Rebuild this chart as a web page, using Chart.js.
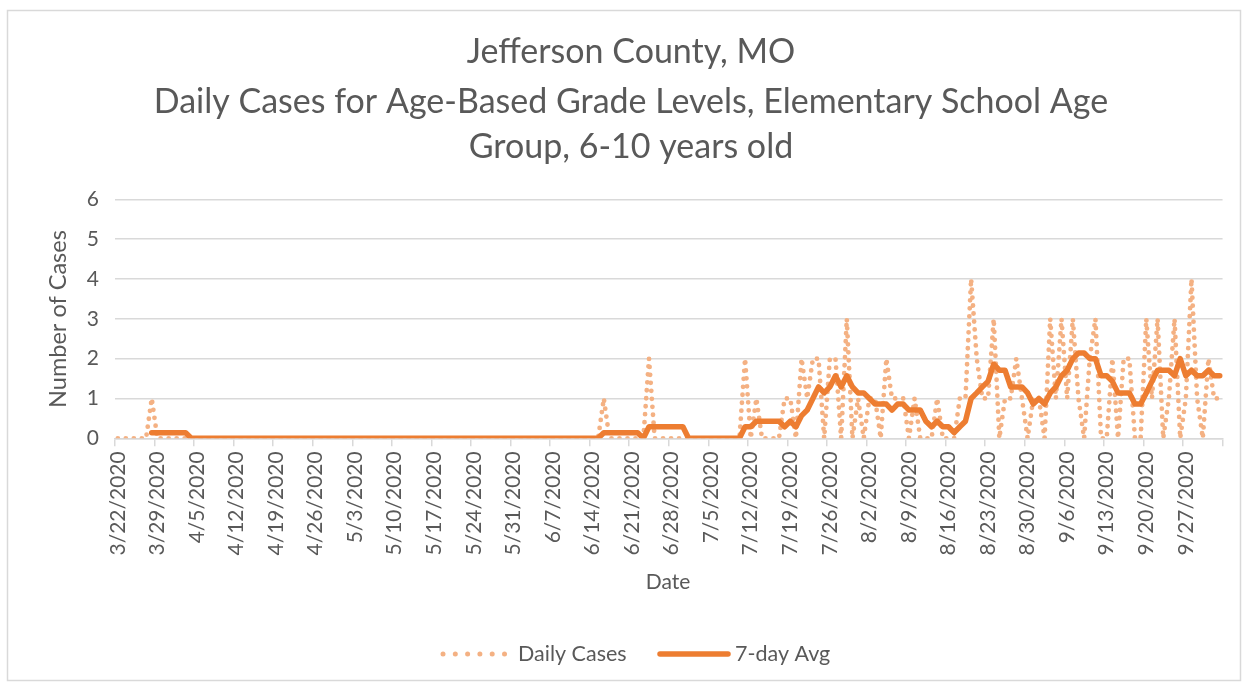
<!DOCTYPE html>
<html>
<head>
<meta charset="utf-8">
<script src="https://cdn.jsdelivr.net/npm/chart.js@4.4.1/dist/chart.umd.min.js"></script>
<style>
html,body{margin:0;padding:0;background:#fff;}
#wrap{position:relative;width:1250px;height:690px;}
</style>
</head>
<body>
<div id="wrap"><canvas id="c" width="1250" height="690"></canvas></div>
<script>
// ---- data ----
const startDate = [2020, 3, 22];   // first category (year, month, day)
const dayCount = 196;
const titleLines = ["Jefferson County, MO", "Daily Cases for Age-Based Grade Levels, Elementary School Age", "Group, 6-10 years old"];
const xTitle = "Date";
const yTitle = "Number of Cases";
const seriesNames = ["Daily Cases", "7-day Avg"];
const yTicks = [0, 1, 2, 3, 4, 5, 6];
const tickEvery = 7;

const dailyCases = [
  0,0,0,0,0,0,1, 0,0,0,0,0,0,0,
  0,0,0,0,0,0,0, 0,0,0,0,0,0,0,
  0,0,0,0,0,0,0, 0,0,0,0,0,0,0,
  0,0,0,0,0,0,0, 0,0,0,0,0,0,0,
  0,0,0,0,0,0,0, 0,0,0,0,0,0,0,
  0,0,0,0,0,0,0, 0,0,0,0,0,0,0,
  0,0,1,0,0,0,0, 0,0,0,2,0,0,0,
  0,0,0,0,0,0,0, 0,0,0,0,0,0,2,
  0,1,0,0,0,0,1, 1,0,2,1,2,2,0,
  2,2,0,3,0,1,0, 1,1,0,2,1,1,1,
  0,1,0,0,0,1,0, 0,0,1,1,4,2,1,
  1,3,0,1,1,2,1, 0,1,1,0,3,1,3,
  1,3,1,0,2,3,0, 0,2,0,2,2,0,0,
  3,1,3,0,1,3,0, 1,4,1,0,2,1,1
];

const sevenDayAvg = [
  null,null,null,null,null,null,0.14, 0.14,0.14,0.14,0.14,0.14,0.14,0,
  0,0,0,0,0,0,0, 0,0,0,0,0,0,0,
  0,0,0,0,0,0,0, 0,0,0,0,0,0,0,
  0,0,0,0,0,0,0, 0,0,0,0,0,0,0,
  0,0,0,0,0,0,0, 0,0,0,0,0,0,0,
  0,0,0,0,0,0,0, 0,0,0,0,0,0,0,
  0,0,0.14,0.14,0.14,0.14,0.14, 0.14,0.14,0,0.29,0.29,0.29,0.29,
  0.29,0.29,0.29,0,0,0,0, 0,0,0,0,0,0,0.29,
  0.29,0.43,0.43,0.43,0.43,0.43,0.29, 0.43,0.29,0.57,0.71,1.0,1.29,1.14,
  1.29,1.57,1.29,1.57,1.29,1.14,1.14, 1.0,0.86,0.86,0.86,0.71,0.86,0.86,
  0.71,0.71,0.71,0.43,0.29,0.43,0.29, 0.29,0.14,0.29,0.43,1.0,1.14,1.29,
  1.43,1.86,1.71,1.71,1.29,1.29,1.29, 1.14,0.86,1.0,0.86,1.14,1.29,1.57,
  1.71,2.0,2.14,2.14,2.0,2.0,1.57, 1.57,1.43,1.14,1.14,1.14,0.86,0.86,
  1.14,1.43,1.71,1.71,1.71,1.57,2.0, 1.57,1.71,1.57,1.57,1.71,1.57,1.57
];

// category labels (consecutive dates)
const categories = [];
{
  const d0 = new Date(startDate[0], startDate[1] - 1, startDate[2]);
  for (let i = 0; i < dayCount; i++) {
    const d = new Date(d0.getFullYear(), d0.getMonth(), d0.getDate() + i);
    categories.push((d.getMonth() + 1) + "/" + d.getDate() + "/" + d.getFullYear());
  }
}

// ---- styles ----
const FONT = "Lato, 'Open Sans', sans-serif";
const TXT = "#595959";
const GRID = "#d9d9d9";
const C_DAILY = "#F4B183";
const C_AVG = "#ED7D31";

const decor = {
  id: "decor",
  beforeDraw(chart) {
    const ctx = chart.ctx;
    ctx.save();
    ctx.fillStyle = "#fff";
    ctx.fillRect(0, 0, chart.width, chart.height);
    ctx.restore();
  },
  afterDraw(chart) {
    const ctx = chart.ctx;
    ctx.save();
    // frame
    ctx.strokeStyle = GRID;
    ctx.lineWidth = 1.5;
    ctx.strokeRect(7.5, 10.5, 1233, 670);
    // title
    ctx.fillStyle = TXT;
    ctx.textAlign = "center";
    ctx.textBaseline = "middle";
    ctx.font = "34px " + FONT;
    const ty = [52, 102, 147];
    titleLines.forEach((t, i) => ctx.fillText(t, 631, ty[i]));
    // axis titles
    ctx.font = "21px " + FONT;
    ctx.fillText(xTitle, 668, 582);
    ctx.save();
    ctx.translate(58, 319);
    ctx.rotate(-Math.PI / 2);
    ctx.font = "23.5px " + FONT;
    ctx.fillText(yTitle, 0, 0);
    ctx.restore();
    // legend
    const ly = 654;
    ctx.fillStyle = C_DAILY;
    for (let k = 0; k < 6; k++) {
      ctx.beginPath();
      ctx.arc(443 + k * 12.3, ly, 2.5, 0, Math.PI * 2);
      ctx.fill();
    }
    ctx.strokeStyle = C_AVG;
    ctx.lineWidth = 5.5;
    ctx.lineCap = "round";
    ctx.beginPath();
    ctx.moveTo(660, ly);
    ctx.lineTo(728, ly);
    ctx.stroke();
    ctx.fillStyle = TXT;
    ctx.textAlign = "left";
    ctx.font = "21.5px " + FONT;
    ctx.fillText(seriesNames[0], 518, ly);
    ctx.fillText(seriesNames[1], 735, ly);
    ctx.restore();
  }
};

new Chart(document.getElementById("c"), {
  type: "line",
  data: {
    labels: categories,
    datasets: [
      {
        label: seriesNames[0],
        data: dailyCases,
        borderColor: C_DAILY,
        borderWidth: 4.8,
        borderDash: [0, 8],
        borderCapStyle: "round",
        borderJoinStyle: "round",
        pointRadius: 0,
        tension: 0,
        order: 2
      },
      {
        label: seriesNames[1],
        data: sevenDayAvg,
        borderColor: C_AVG,
        borderWidth: 5.5,
        borderCapStyle: "round",
        borderJoinStyle: "round",
        pointRadius: 0,
        tension: 0,
        spanGaps: false,
        order: 1
      }
    ]
  },
  options: {
    responsive: false,
    animation: false,
    devicePixelRatio: 1,
    layout: { padding: { left: 0, right: 24.3, top: 199.3, bottom: 121.7 } },
    plugins: {
      legend: { display: false },
      title: { display: false },
      tooltip: { enabled: false }
    },
    scales: {
      x: {
        type: "category",
        offset: true,
        afterFit(s) { s.height = 130; },
        grid: {
          offset: true,
          drawOnChartArea: false,
          drawTicks: true,
          tickLength: 8,
          lineWidth: 1.5,
          color: (c) => (c.index === undefined || c.index % tickEvery === 0) ? GRID : "rgba(0,0,0,0)"
        },
        border: { display: true, color: GRID, width: 1.5 },
        ticks: {
          autoSkip: false,
          maxRotation: 90,
          minRotation: 90,
          padding: 5,
          color: TXT,
          font: { family: FONT, size: 21 },
          callback: function (v, i) { return i % tickEvery === 0 ? categories[i] : ""; }
        }
      },
      y: {
        min: yTicks[0],
        max: yTicks[yTicks.length - 1],
        afterFit(s) { s.width = 115; },
        afterBuildTicks(s) { s.ticks = yTicks.map(v => ({ value: v })); },
        grid: { color: GRID, lineWidth: 1.5, drawTicks: false },
        border: { display: false },
        ticks: {
          stepSize: 1,
          padding: 16,
          color: TXT,
          font: { family: FONT, size: 21 }
        }
      }
    }
  },
  plugins: [decor]
});
</script>
</body>
</html>
